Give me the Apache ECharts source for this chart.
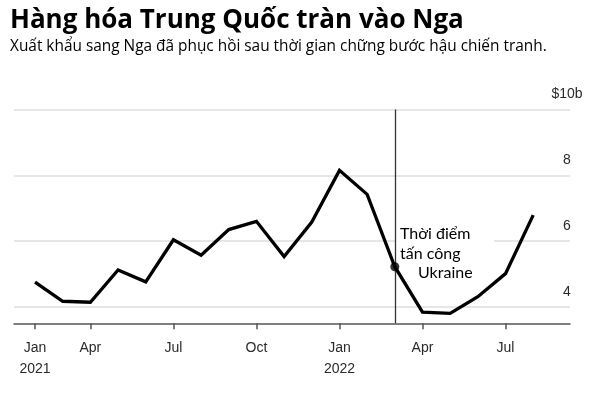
<!DOCTYPE html>
<html>
<head>
<meta charset="utf-8">
<script src="https://cdn.jsdelivr.net/npm/echarts@6/dist/echarts.min.js"></script>
<style>
html,body{margin:0;padding:0;background:#fff;}
#chart{width:600px;height:395px;}
</style>
</head>
<body>
<div id="chart"></div>
<script>
// Data (China exports to Russia, $ billions; China customs reports Jan-Feb 2021 combined)
const periods = ['2021-01','2021-03','2021-04','2021-05','2021-06','2021-07','2021-08','2021-09','2021-10','2021-11','2021-12',
                 '2022-01','2022-02','2022-03','2022-04','2022-05','2022-06','2022-07','2022-08'];
const exportsBn = [4.75,4.17,4.14,5.12,4.76,6.04,5.57,6.35,6.60,5.53,6.58,
                   8.15,7.42,5.22,3.84,3.80,4.31,5.01,6.79];
const tickPeriods = ['2021-01','2021-04','2021-07','2021-10','2022-01','2022-04','2022-07'];
const tickLabels = ['Jan\n2021','Apr','Jul','Oct','Jan\n2022','Apr','Jul'];
const yTicks = [4,6,8,10];
const yTickLabels = ['4','6','8','$10b'];
const invasionPeriod = '2022-03';
const titleText = 'Hàng hóa Trung Quốc tràn vào Nga';
const subtitleText = 'Xuất khẩu sang Nga đã phục hồi sau thời gian chững bước hậu chiến tranh.';
const annotationLines = ['Thời điểm', 'tấn công', 'Ukraine'];

const seriesData = exportsBn.map((v, i) => [i, v]);
const tickIdx = tickPeriods.map(p => periods.indexOf(p));
const invIdx = periods.indexOf(invasionPeriod);

const chart = echarts.init(document.getElementById('chart'), null, {renderer: 'canvas'});
chart.setOption({
  animation: false,
  backgroundColor: '#fff',
  title: {
    text: titleText,
    subtext: subtitleText,
    left: 10, top: 8, padding: 0, itemGap: 5,
    textStyle: {fontFamily: 'Open Sans', fontWeight: 'bold', fontSize: 26, lineHeight: 26, color: '#000'},
    subtextStyle: {fontFamily: 'Open Sans', fontSize: 15.4, lineHeight: 15.4, color: '#000'}
  },
  grid: {left: 14, right: 30, top: 109.5, bottom: 71.7},
  xAxis: {
    type: 'value', min: -0.76, max: 19.33,
    axisLine: {show: true, lineStyle: {color: '#555', width: 1.5}},
    axisTick: {show: true, customValues: tickIdx, length: 6, lineStyle: {color: '#555', width: 1.5}},
    axisLabel: {
      customValues: tickIdx,
      formatter: v => tickLabels[tickIdx.indexOf(Math.round(v))] || '',
      fontFamily: 'Liberation Sans', fontSize: 14, color: '#2a2a2a', lineHeight: 21, margin: 14
    },
    splitLine: {show: false}
  },
  yAxis: {
    type: 'value', position: 'right', min: 3.5, max: 10,
    axisLine: {show: false}, axisTick: {show: false, customValues: yTicks},
    axisLabel: {
      customValues: yTicks,
      formatter: v => yTickLabels[yTicks.indexOf(v)] || '',
      fontFamily: 'Liberation Sans', fontSize: 14, color: '#2a2a2a',
      align: 'center', verticalAlign: 'bottom', padding: [0,0,8,0], margin: -3
    },
    splitLine: {show: true, lineStyle: {color: '#dedede', width: 1.5}}
  },
  graphic: [
    {type: 'rect', z: 1, shape: {x: 396, y: 236, width: 98, height: 10}, style: {fill: '#fff'}},
    {type: 'text', z: 5, left: 400, top: 226, style: {text: annotationLines[0], font: '16px Lato', fill: '#000'}},
    {type: 'text', z: 5, left: 400, top: 246, style: {text: annotationLines[1], font: '16px Lato', fill: '#000'}},
    {type: 'text', z: 5, left: 418, top: 265, style: {text: annotationLines[2], font: '16px Lato', fill: '#000'}}
  ],
  series: [
    {
      type: 'line', data: seriesData, showSymbol: false, z: 3,
      lineStyle: {color: '#000', width: 3.3, join: 'miter'},
      markLine: {
        silent: true, symbol: 'none', z: 2,
        label: {show: false},
        lineStyle: {color: '#333', width: 1.3, type: 'solid'},
        data: [{xAxis: invIdx}]
      }
    },
    {
      type: 'scatter', data: [seriesData[invIdx]], symbol: 'circle', symbolSize: 9, z: 4,
      itemStyle: {color: '#000'}
    }
  ]
});
</script>
</body>
</html>
